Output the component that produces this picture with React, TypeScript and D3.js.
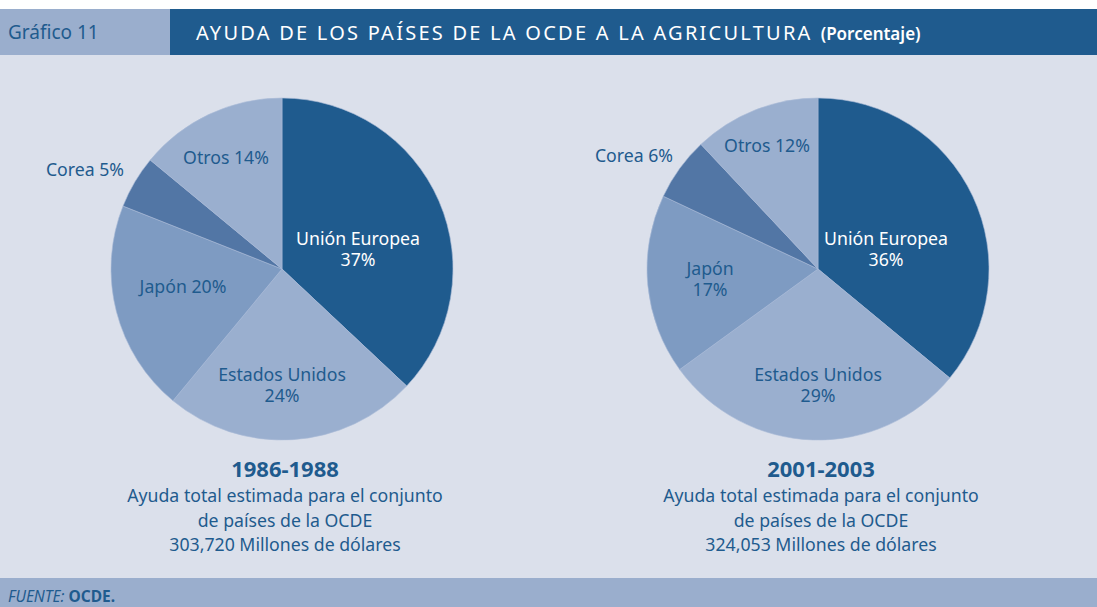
import React from "react";
import * as d3 from "d3";

const categories = ["Unión Europea", "Estados Unidos", "Japón", "Corea", "Otros"];
const values1986 = [37, 24, 20, 5, 14];
const values2001 = [36, 29, 17, 6, 12];
const periods = ["1986-1988", "2001-2003"];
const totals = ["303,720 Millones de dólares", "324,053 Millones de dólares"];

const W = 1097, H = 607;
const DARK = "#1f5b8e";
const colors: Record<string, string> = {
  "Unión Europea": "#1f5b8e",
  "Estados Unidos": "#9aafcf",
  "Japón": "#7e9bc2",
  "Corea": "#5276a5",
  "Otros": "#9aafcf",
};
const FONT = "'Noto Sans', 'Open Sans', sans-serif";

type LabelSpec = { lines: string[]; dx: number; dy: number; color: string };

function labelsFor(values: number[], idx: number): LabelSpec[] {
  const p = values.map((v) => `${v}%`);
  if (idx === 0) {
    return [
      { lines: [categories[0], p[0]], dx: 76, dy: -24, color: "#ffffff" },
      { lines: [categories[1], p[1]], dx: 0, dy: 112, color: DARK },
      { lines: [`${categories[2]} ${p[2]}`], dx: -99, dy: 24, color: DARK },
      { lines: [`${categories[3]} ${p[3]}`], dx: -197, dy: -93, color: DARK },
      { lines: [`${categories[4]} ${p[4]}`], dx: -56, dy: -105, color: DARK },
    ];
  }
  return [
    { lines: [categories[0], p[0]], dx: 68, dy: -24, color: "#ffffff" },
    { lines: [categories[1], p[1]], dx: 0, dy: 112, color: DARK },
    { lines: [categories[2], p[2]], dx: -108, dy: 6, color: DARK },
    { lines: [`${categories[3]} ${p[3]}`], dx: -184, dy: -107, color: DARK },
    { lines: [`${categories[4]} ${p[4]}`], dx: -51, dy: -117, color: DARK },
  ];
}

function Pie({ values, cx, cy, r, idx }: { values: number[]; cx: number; cy: number; r: number; idx: number }) {
  const pie = d3.pie<number>().sort(null).value((d) => d);
  const arcs = pie(values);
  const arc = d3.arc<d3.PieArcDatum<number>>().innerRadius(0).outerRadius(r);
  const labels = labelsFor(values, idx);
  return (
    <g transform={`translate(${cx},${cy})`}>
      {arcs.map((a, i) => (
        <path key={i} d={arc(a) || ""} fill={colors[categories[i]]} stroke="#a9bad6" strokeWidth={0.6} />
      ))}
      {labels.map((l, i) =>
        l.lines.map((ln, j) => (
          <text key={`${i}-${j}`} x={l.dx} y={l.dy + j * 21} textAnchor="middle" fill={l.color} fontSize={17.7} fontFamily={FONT}>
            {ln}
          </text>
        ))
      )}
    </g>
  );
}

export default function App() {
  const centers = [282, 818];
  const data = [values1986, values2001];
  return (
    <svg width={W} height={H} style={{ position: "absolute", left: 0, top: 0 }}>
      <rect x={0} y={0} width={W} height={H} fill="#ffffff" />
      <rect x={0} y={55} width={W} height={523} fill="#dbe0eb" />
      <rect x={0} y={9} width={170} height={46} fill="#9aaecd" />
      <rect x={170} y={9} width={W - 170} height={46} fill={DARK} />
      <text x={8} y={39} fontSize={19} fill={DARK} fontFamily={FONT}>Gráfico 11</text>
      <text x={196} y={40} fontSize={20} fill="#ffffff" fontFamily={FONT} letterSpacing={2.25}>
        AYUDA DE LOS PAÍSES DE LA OCDE A LA AGRICULTURA
        <tspan fontSize={17} fontWeight={600} letterSpacing={0} dx={8}>(Porcentaje)</tspan>
      </text>
      {data.map((vals, i) => (
        <Pie key={i} values={vals} cx={centers[i]} cy={269} r={171} idx={i} />
      ))}
      {periods.map((p, i) => (
        <g key={p}>
          <text x={centers[i] + 3} y={477} textAnchor="middle" fontSize={22} fontWeight="bold" fill={DARK} fontFamily={FONT}>{p}</text>
          <text x={centers[i] + 3} y={502} textAnchor="middle" fontSize={17.7} fill={DARK} fontFamily={FONT}>Ayuda total estimada para el conjunto</text>
          <text x={centers[i] + 3} y={527} textAnchor="middle" fontSize={17.7} fill={DARK} fontFamily={FONT}>de países de la OCDE</text>
          <text x={centers[i] + 3} y={551} textAnchor="middle" fontSize={17.7} fill={DARK} fontFamily={FONT}>{totals[i]}</text>
        </g>
      ))}
      <rect x={0} y={578} width={W} height={29} fill="#9aaecd" />
      <text x={8} y={602} fontSize={15.5} fill={DARK} fontFamily={FONT}>
        <tspan fontStyle="italic">FUENTE:</tspan>
        <tspan fontWeight="bold" dx={4}>OCDE.</tspan>
      </text>
    </svg>
  );
}
